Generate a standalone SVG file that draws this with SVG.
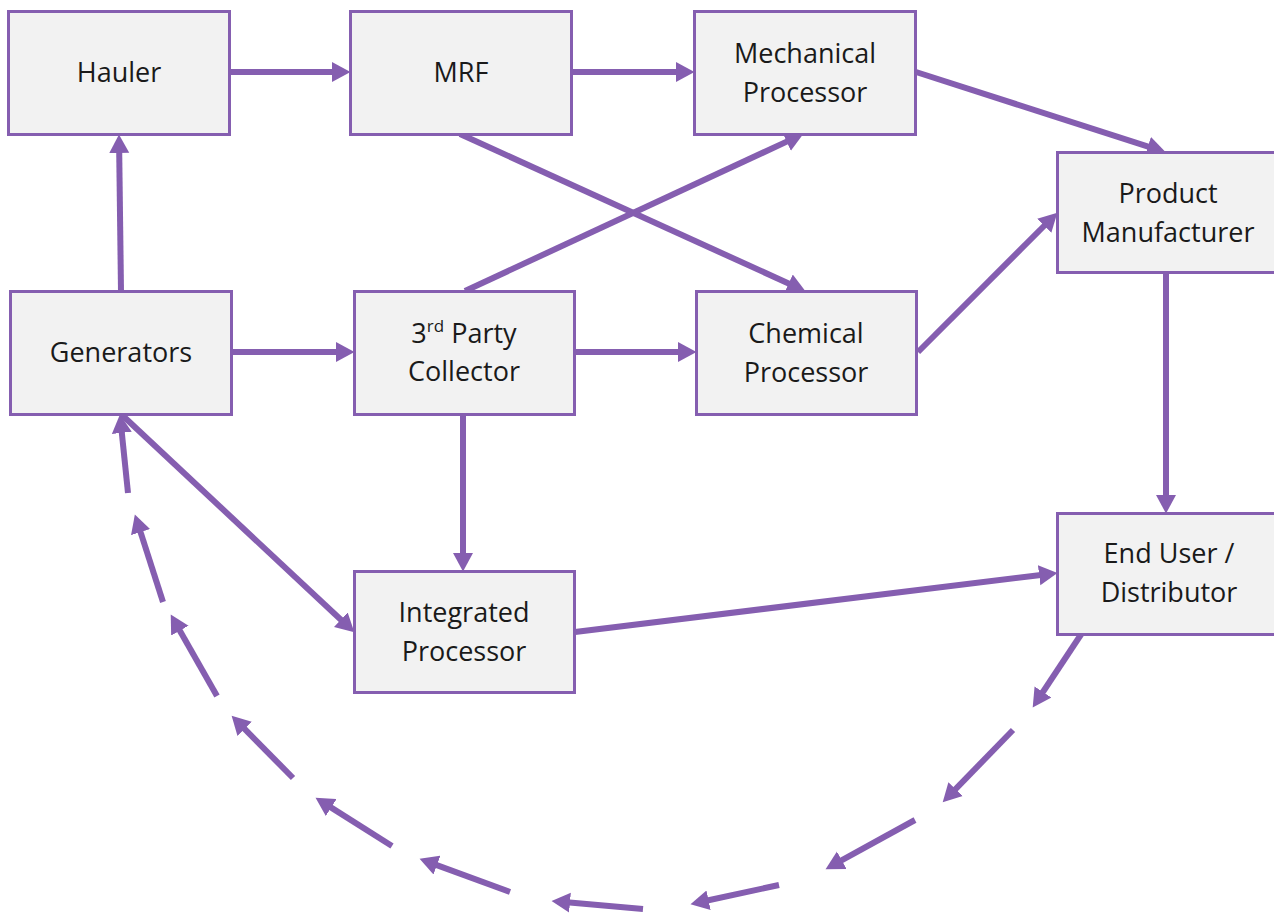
<svg xmlns="http://www.w3.org/2000/svg" width="1274" height="914" viewBox="0 0 1274 914">
<style>
.box{fill:#F2F2F2;stroke:#855EB0;stroke-width:3}
.lbl{font-family:"Open Sans","Liberation Sans",sans-serif;font-size:27px;fill:#1a1a1a;text-anchor:middle}
.c{stroke:#855EB0;stroke-width:6;fill:none;marker-end:url(#ah)}
</style>
<defs>
<marker id="ah" markerUnits="userSpaceOnUse" markerWidth="20" markerHeight="21" viewBox="0 0 20 21" refX="6" refY="10.5" orient="auto">
<path d="M0,0.5 L18.5,10.5 L0,20.5 z" fill="#855EB0"/>
</marker>
</defs>
<rect width="1274" height="914" fill="#FFFFFF"/>
<g id="connectors">
<line class="c" x1="231" y1="72" x2="338" y2="72"/>
<line class="c" x1="573" y1="72" x2="682" y2="72"/>
<line class="c" x1="916" y1="72" x2="1153.6" y2="148.3"/>
<line class="c" x1="121" y1="291" x2="119.15" y2="147"/>
<line class="c" x1="232" y1="352" x2="342" y2="352"/>
<line class="c" x1="575" y1="352" x2="684" y2="352"/>
<line class="c" x1="460" y1="134" x2="794.1" y2="286"/>
<line class="c" x1="465" y1="291" x2="792.1" y2="139.1"/>
<line class="c" x1="918" y1="352" x2="1048.5" y2="221.5"/>
<line class="c" x1="1166" y1="273" x2="1166" y2="501"/>
<line class="c" x1="463" y1="415" x2="463" y2="559"/>
<line class="c" x1="122" y1="415" x2="345.2" y2="623.8"/>
<line class="c" x1="575" y1="632" x2="1045.1" y2="574.5"/>
<line class="c" x1="1082" y1="633" x2="1039.6" y2="697"/>
<line class="c" x1="1013" y1="730" x2="951.4" y2="793.4"/>
<line class="c" x1="915" y1="820" x2="836.5" y2="863.2"/>
<line class="c" x1="779" y1="885" x2="702.7" y2="901.5"/>
<line class="c" x1="643" y1="909" x2="564" y2="902.1"/>
<line class="c" x1="510" y1="892" x2="431.3" y2="863.1"/>
<line class="c" x1="392" y1="846" x2="326.1" y2="804.4"/>
<line class="c" x1="293" y1="778" x2="240.4" y2="724.6"/>
<line class="c" x1="217" y1="696" x2="176.9" y2="625.4"/>
<line class="c" x1="163" y1="602" x2="138.7" y2="526.4"/>
<line class="c" x1="128" y1="493" x2="121.2" y2="426.9"/>
</g>
<g id="hauler"><rect class="box" x="8.5" y="11.5" width="221" height="123"/><text class="lbl" x="119" y="82">Hauler</text></g>
<g id="mrf"><rect class="box" x="350.5" y="11.5" width="221" height="123"/><text class="lbl" x="461" y="82">MRF</text></g>
<g id="mechanical"><rect class="box" x="694.5" y="11.5" width="221" height="123"/><text class="lbl" x="805" y="63">Mechanical</text><text class="lbl" x="805" y="102">Processor</text></g>
<g id="product"><rect class="box" x="1057.5" y="152.5" width="222" height="120"/><text class="lbl" x="1168" y="203">Product</text><text class="lbl" x="1168" y="242">Manufacturer</text></g>
<g id="generators"><rect class="box" x="10.5" y="291.5" width="221" height="123"/><text class="lbl" x="121" y="362">Generators</text></g>
<g id="collector"><rect class="box" x="354.5" y="291.5" width="220" height="123"/><text class="lbl" x="464" y="343">3<tspan font-size="17" dy="-11">rd</tspan><tspan dy="11"> Party</tspan></text><text class="lbl" x="464" y="381">Collector</text></g>
<g id="chemical"><rect class="box" x="696.5" y="291.5" width="220" height="123"/><text class="lbl" x="806" y="343">Chemical</text><text class="lbl" x="806" y="382">Processor</text></g>
<g id="integrated"><rect class="box" x="354.5" y="571.5" width="220" height="121"/><text class="lbl" x="464" y="622">Integrated</text><text class="lbl" x="464" y="661">Processor</text></g>
<g id="enduser"><rect class="box" x="1057.5" y="513.5" width="222" height="121"/><text class="lbl" x="1169" y="563">End User /</text><text class="lbl" x="1169" y="602">Distributor</text></g>
</svg>
